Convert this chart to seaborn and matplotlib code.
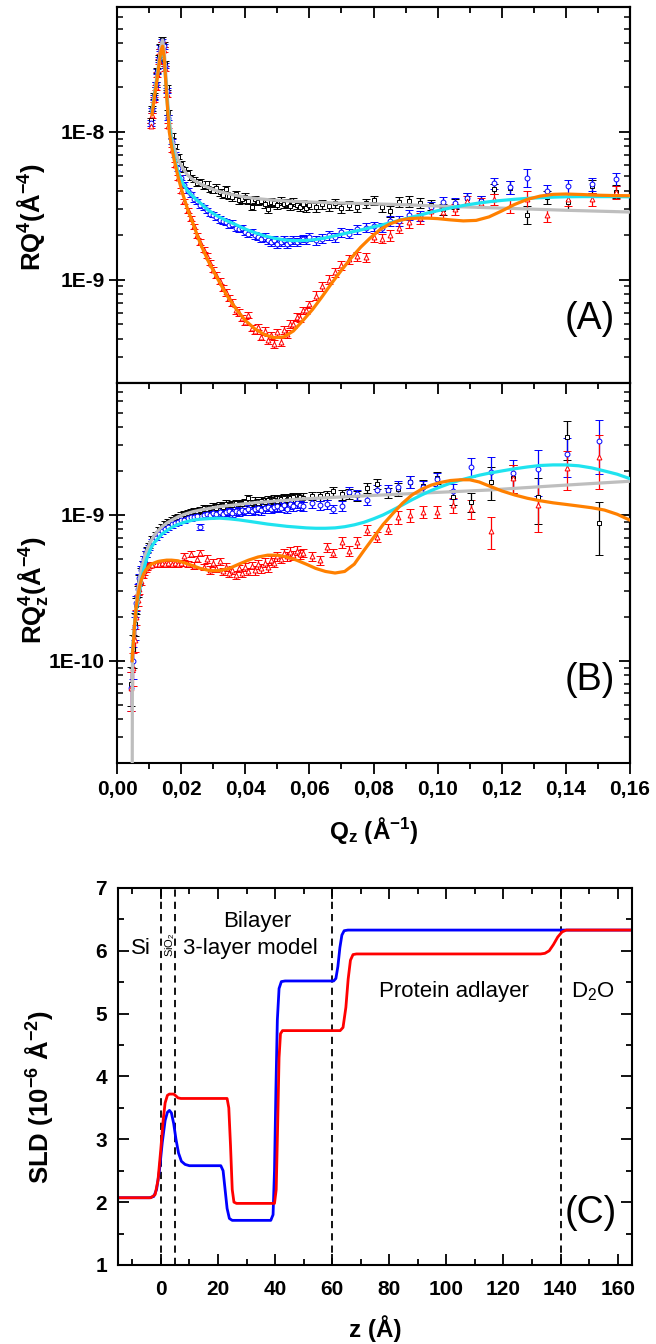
import numpy as np
import pandas as pd
import matplotlib
matplotlib.use("Agg")
import matplotlib.pyplot as plt
import seaborn as sns
from matplotlib.ticker import MultipleLocator, LogLocator, NullFormatter

# ---------------- panel A : RQ^4 (values in 1E-9) ----------------
qA = [0.0105, 0.011, 0.0115, 0.012, 0.0125, 0.013, 0.0135, 0.014, 0.0145, 0.015, 0.0155,
      0.016, 0.017, 0.018, 0.019, 0.020, 0.021, 0.022, 0.023, 0.024, 0.025,
      0.026, 0.027, 0.028, 0.029, 0.030, 0.031, 0.032, 0.033, 0.034, 0.035,
      0.036, 0.037, 0.038, 0.039, 0.040, 0.041, 0.042, 0.043, 0.044, 0.045,
      0.046, 0.047, 0.048, 0.049, 0.050, 0.051, 0.052, 0.053, 0.054, 0.055,
      0.056, 0.057, 0.058, 0.059, 0.060,
      0.062, 0.064, 0.066, 0.068, 0.070, 0.0725, 0.075, 0.0775, 0.080, 0.0825,
      0.085, 0.088, 0.091, 0.0945, 0.098, 0.1016, 0.1054, 0.1093, 0.1135, 0.1176,
      0.1225, 0.128, 0.134, 0.1407, 0.148, 0.1555]

black_A = [12, 14.5, 17.5, 21, 26, 32, 38, 42, 39, 29, 20,
           13.5, 9.5, 8.0, 6.8, 6.1, 5.6, 5.3, 4.9, 4.8, 4.5,
           4.6, 4.3, 4.5, 4.1, 4.0, 4.2, 3.9, 3.75, 4.1, 3.7,
           3.6, 3.8, 3.45, 3.5, 3.65, 3.4, 3.1, 3.5, 3.35, 3.4,
           3.25, 3.0, 3.35, 3.3, 3.2, 3.4, 3.25, 3.3, 3.15, 3.35,
           3.2, 3.1, 3.25, 3.05, 3.2,
           3.1, 3.25, 3.15, 3.3, 3.05, 3.2, 3.1, 3.3, 3.45, 3.1,
           2.9, 3.35, 3.4, 3.3, 3.2, 3.0, 3.25, 3.55, 3.4, 4.1,
           4.2, 2.75, 3.6, 3.35, 4.3, 3.95]

blue_A = [11.5, 14, 17, 21, 25.5, 31, 37, 41, 38, 28, 19,
          12.5, 8.6, 7.0, 5.7, 4.9, 4.4, 4.0, 3.8, 3.5, 3.4,
          3.2, 3.1, 2.95, 2.8, 2.75, 2.65, 2.55, 2.5, 2.45, 2.35,
          2.4, 2.25, 2.2, 2.25, 2.1, 2.05, 2.1, 2.0, 1.95, 1.9,
          1.95, 1.85, 1.8, 1.85, 1.75, 1.8, 1.85, 1.75, 1.8, 1.85,
          1.8, 1.85, 1.9, 1.85, 1.95,
          1.85, 1.9, 2.0, 1.95, 2.1, 2.05, 2.2, 2.25, 2.3, 2.25,
          2.5, 2.5, 2.75, 2.7, 3.1, 3.35, 3.3, 3.55, 3.4, 4.5,
          4.25, 4.9, 4.0, 4.3, 4.45, 4.8]

red_A = [11, 13, 16.5, 20, 24.5, 30, 35, 39, 36, 27, 18,
         11, 7.6, 6.0, 4.9, 4.0, 3.4, 2.95, 2.6, 2.3, 2.0,
         1.8, 1.6, 1.45, 1.3, 1.17, 1.08, 0.98, 0.88, 0.82, 0.75,
         0.70, 0.62, 0.6, 0.55, 0.52, 0.58, 0.47, 0.45, 0.48, 0.41,
         0.45, 0.39, 0.42, 0.37, 0.44, 0.38, 0.46, 0.43, 0.5, 0.5,
         0.56, 0.55, 0.62, 0.62, 0.68,
         0.78, 0.9, 1.0, 1.12, 1.25, 1.38, 1.45, 1.42, 1.95, 1.9,
         2.0, 2.25, 2.45, 2.6, 2.9, 2.85, 3.0, 3.4, 3.3, 3.5,
         3.15, 3.5, 2.75, 3.5, 3.5, 3.9]

rel_err_A = [0.04, 0.04, 0.04, 0.04, 0.04, 0.04, 0.04, 0.04, 0.04, 0.04, 0.04,
             0.04, 0.04, 0.04, 0.04, 0.04, 0.04, 0.04, 0.04, 0.04, 0.04,
             0.04, 0.04, 0.04, 0.04, 0.04, 0.05, 0.05, 0.05, 0.05, 0.05,
             0.05, 0.05, 0.05, 0.05, 0.05, 0.05, 0.05, 0.05, 0.05, 0.05,
             0.06, 0.06, 0.06, 0.06, 0.06, 0.06, 0.06, 0.06, 0.06, 0.06,
             0.06, 0.06, 0.06, 0.06, 0.06,
             0.07, 0.07, 0.07, 0.07, 0.07, 0.07, 0.07, 0.07, 0.07, 0.07,
             0.08, 0.08, 0.08, 0.08, 0.08, 0.08, 0.08, 0.08, 0.08, 0.08,
             0.1, 0.14, 0.1, 0.1, 0.1, 0.1]

fit_qA = [0.0109, 0.0118, 0.0126, 0.0133, 0.0138, 0.0142, 0.0147, 0.0152, 0.0157, 0.0163,
          0.017, 0.0178, 0.019, 0.0205, 0.022, 0.024, 0.026, 0.0285, 0.031, 0.034,
          0.037, 0.040, 0.043, 0.046, 0.049, 0.052, 0.055, 0.058, 0.061, 0.064,
          0.067, 0.070, 0.073, 0.076, 0.079, 0.082, 0.085, 0.088, 0.091, 0.094,
          0.097, 0.100, 0.104, 0.108, 0.112, 0.116, 0.120, 0.124, 0.128, 0.132,
          0.136, 0.140, 0.145, 0.150, 0.155, 0.160]

gray_A = [14, 19, 25, 33, 39, 42, 36, 25, 17, 12,
          9.3, 7.8, 6.5, 5.7, 5.1, 4.7, 4.45, 4.2, 4.0, 3.85,
          3.72, 3.62, 3.55, 3.5, 3.45, 3.42, 3.39, 3.37, 3.35, 3.33,
          3.31, 3.3, 3.29, 3.28, 3.27, 3.25, 3.24, 3.22, 3.21, 3.19,
          3.17, 3.15, 3.13, 3.11, 3.09, 3.07, 3.05, 3.03, 3.01, 2.99,
          2.97, 2.95, 2.93, 2.91, 2.89, 2.87]

cyan_A = [13.5, 18.5, 24, 31, 35, 36, 31, 22, 15.5, 11,
          8.4, 6.8, 5.4, 4.5, 4.0, 3.6, 3.3, 2.95, 2.72, 2.52,
          2.36, 2.2, 2.08, 1.98, 1.91, 1.86, 1.84, 1.84, 1.86, 1.9,
          1.96, 2.03, 2.1, 2.17, 2.25, 2.33, 2.42, 2.52, 2.62, 2.72,
          2.83, 2.93, 3.06, 3.18, 3.28, 3.37, 3.44, 3.5, 3.55, 3.59,
          3.62, 3.64, 3.65, 3.65, 3.65, 3.64]

orange_A = [13, 18, 23.5, 31, 36, 38, 32, 22, 15, 10,
            8.0, 6.5, 5.0, 3.8, 3.0, 2.3, 1.75, 1.33, 1.05, 0.8,
            0.64, 0.53, 0.465, 0.425, 0.405, 0.41, 0.45, 0.53, 0.63, 0.77,
            0.95, 1.16, 1.4, 1.66, 1.92, 2.18, 2.38, 2.52, 2.59, 2.61,
            2.61, 2.59, 2.54, 2.5, 2.52, 2.66, 2.92, 3.23, 3.5, 3.68,
            3.78, 3.8, 3.77, 3.73, 3.71, 3.7]

# ---------------- panel B : RQz^4 (values in 1E-9) ----------------
qB = [0.0045, 0.005, 0.0055, 0.006, 0.0065, 0.007, 0.0075, 0.008, 0.0085, 0.009,
      0.0095, 0.010, 0.011, 0.012,
      0.013, 0.014, 0.015, 0.016, 0.017, 0.018, 0.019, 0.020, 0.021, 0.022,
      0.023, 0.024, 0.025, 0.026, 0.027, 0.028, 0.029, 0.030, 0.031, 0.032,
      0.033, 0.034, 0.035, 0.036, 0.037, 0.038, 0.039, 0.040, 0.041, 0.042,
      0.043, 0.044, 0.045, 0.046, 0.047, 0.048, 0.049, 0.050, 0.051, 0.052,
      0.053, 0.054, 0.055, 0.056, 0.057,
      0.0581, 0.0607, 0.0633, 0.0654, 0.0675, 0.0701, 0.0725, 0.0749, 0.0779, 0.081,
      0.0844, 0.0877, 0.0914, 0.0955, 0.0999, 0.1048, 0.1104, 0.1166, 0.1236, 0.1314,
      0.1402, 0.1504]

black_B = [0.07, 0.12, 0.18, 0.24, 0.3, 0.36, 0.41, 0.46, 0.5, 0.54,
           0.58, 0.62, 0.69, 0.74,
           0.79, 0.83, 0.86, 0.89, 0.92, 0.95, 0.97, 0.99, 1.01, 1.03,
           1.04, 1.06, 1.07, 1.08, 1.12, 1.1, 1.11, 1.14, 1.12, 1.15,
           1.14, 1.19, 1.16, 1.17, 1.2, 1.18, 1.19, 1.22, 1.3, 1.2,
           1.23, 1.21, 1.24, 1.22, 1.26, 1.24, 1.27, 1.25, 1.28, 1.3,
           1.27, 1.3, 1.32, 1.29, 1.33,
           1.31, 1.35, 1.34, 1.36, 1.45, 1.38, 1.4, 1.36, 1.53, 1.63,
           1.42, 1.5, 1.69, 1.58, 1.8, 1.33, 1.23, 1.69, 1.8, 1.33,
           3.4, 0.88]

blue_B = [0.065, 0.1, 0.17, 0.25, 0.31, 0.37, 0.42, 0.46, 0.5, 0.54,
          0.57, 0.6, 0.66, 0.7,
          0.74, 0.78, 0.8, 0.83, 0.86, 0.88, 0.9, 0.92, 0.93, 0.95,
          0.96, 0.97, 0.99, 0.83, 1.0, 1.02, 1.0, 1.03, 1.01, 1.05,
          1.02, 1.04, 1.06, 1.03, 1.07, 1.05, 1.08, 1.06, 1.1, 1.07,
          1.09, 1.12, 1.08, 1.11, 1.14, 1.1, 1.13, 1.15, 1.12, 1.16,
          1.1, 1.18, 1.15, 1.2, 1.17,
          1.15, 1.2, 1.16, 1.18, 1.1, 1.15, 1.44, 1.38, 1.27, 1.49,
          1.49, 1.56, 1.69, 1.56, 1.76, 1.45, 2.14, 1.98, 1.95, 2.07,
          2.6, 3.2]

red_B = [0.065, 0.09, 0.14, 0.2, 0.26, 0.31, 0.35, 0.39, 0.41, 0.43,
         0.44, 0.45, 0.455, 0.46,
         0.46, 0.47, 0.46, 0.47, 0.46, 0.47, 0.46, 0.47, 0.52, 0.46,
         0.54, 0.45, 0.5, 0.55, 0.44, 0.5, 0.42, 0.47, 0.43, 0.48,
         0.41, 0.44, 0.4, 0.42, 0.39, 0.43, 0.4, 0.44, 0.41, 0.45,
         0.42, 0.46, 0.43, 0.47, 0.44, 0.49, 0.47, 0.52, 0.5, 0.55,
         0.52, 0.56, 0.53, 0.57, 0.54,
         0.55, 0.52, 0.49, 0.6, 0.55, 0.65, 0.57, 0.65, 0.79, 0.71,
         0.8, 0.97, 1.0, 1.05, 1.05, 1.17, 1.1, 0.78, 1.8, 1.17,
         2.1, 2.5]

rel_err_B = [0.3, 0.25, 0.18, 0.12, 0.09, 0.07, 0.06, 0.05, 0.05, 0.05,
             0.04, 0.04, 0.04, 0.04,
             0.05, 0.05, 0.05, 0.05, 0.05, 0.05, 0.05, 0.05, 0.05, 0.05,
             0.05, 0.05, 0.05, 0.05, 0.05, 0.06, 0.06, 0.06, 0.06, 0.06,
             0.06, 0.06, 0.06, 0.06, 0.06, 0.06, 0.06, 0.06, 0.06, 0.06,
             0.07, 0.07, 0.07, 0.07, 0.07, 0.07, 0.07, 0.07, 0.07, 0.07,
             0.07, 0.07, 0.07, 0.07, 0.07,
             0.07, 0.07, 0.07, 0.07, 0.07, 0.08, 0.08, 0.08, 0.08, 0.08,
             0.08, 0.1, 0.1, 0.1, 0.1, 0.12, 0.15, 0.25, 0.22, 0.35,
             0.3, 0.4]

fit_qB = [0.0047, 0.0048, 0.0052, 0.0056, 0.006, 0.0065, 0.007, 0.0076, 0.0083, 0.009,
          0.0098, 0.0107, 0.0117, 0.0128, 0.014, 0.0155, 0.017, 0.019, 0.021, 0.0235,
          0.026, 0.029, 0.032, 0.035, 0.038, 0.041, 0.044, 0.047, 0.050, 0.053,
          0.056, 0.059, 0.062, 0.065, 0.068, 0.071, 0.074, 0.077, 0.080, 0.083,
          0.086, 0.089, 0.092, 0.095, 0.098, 0.101, 0.104, 0.107, 0.110, 0.113,
          0.116, 0.120, 0.124, 0.128, 0.132, 0.136, 0.140, 0.144, 0.148, 0.152,
          0.156, 0.160]

gray_B = [0.005, 0.1, 0.15, 0.2, 0.25, 0.31, 0.37, 0.43, 0.49, 0.55,
          0.61, 0.67, 0.73, 0.78, 0.83, 0.88, 0.92, 0.97, 1.01, 1.05,
          1.08, 1.11, 1.14, 1.16, 1.18, 1.2, 1.22, 1.23, 1.25, 1.26,
          1.28, 1.29, 1.3, 1.31, 1.32, 1.33, 1.34, 1.35, 1.36, 1.37,
          1.38, 1.39, 1.40, 1.41, 1.42, 1.43, 1.44, 1.45, 1.46, 1.47,
          1.48, 1.5, 1.52, 1.54, 1.56, 1.58, 1.6, 1.62, 1.64, 1.66,
          1.68, 1.7]

cyan_B = [0.105, 0.115, 0.145, 0.185, 0.22, 0.26, 0.3, 0.36, 0.42, 0.48,
          0.54, 0.6, 0.65, 0.69, 0.74, 0.78, 0.82, 0.86, 0.89, 0.92,
          0.935, 0.945, 0.95, 0.94, 0.925, 0.905, 0.885, 0.865, 0.85, 0.835,
          0.825, 0.815, 0.81, 0.81, 0.815, 0.83, 0.855, 0.89, 0.94, 1.0,
          1.08, 1.17, 1.27, 1.37, 1.47, 1.56, 1.65, 1.73, 1.8, 1.87,
          1.93, 2.0, 2.07, 2.13, 2.18, 2.2, 2.2, 2.17, 2.1, 2.0,
          1.9, 1.77]

orange_B = [0.1, 0.11, 0.145, 0.19, 0.235, 0.28, 0.32, 0.36, 0.395, 0.42,
            0.44, 0.46, 0.47, 0.48, 0.485, 0.49, 0.49, 0.485, 0.47, 0.45,
            0.43, 0.415, 0.415, 0.43, 0.46, 0.49, 0.515, 0.53, 0.53, 0.515,
            0.49, 0.46, 0.43, 0.41, 0.40, 0.41, 0.46, 0.57, 0.7, 0.86,
            1.02, 1.2, 1.37, 1.5, 1.6, 1.67, 1.72, 1.74, 1.74, 1.68,
            1.58, 1.46, 1.37, 1.3, 1.25, 1.21, 1.18, 1.15, 1.12, 1.08,
            1.01, 0.92]

# ---------------- panel C : SLD profiles ----------------
z_blue = [-15, -4, -2.5, -1.5, -0.5, 0.5, 1.5, 2.3, 3.0, 3.7, 4.5, 5.3, 6.2, 7.2, 8.5, 10,
          21, 21.8, 22.5, 23.2, 24.0, 25, 38.5, 39.3, 39.8, 40.3, 40.8, 41.4, 42.2, 43.5,
          60.5, 61.3, 62.0, 62.7, 63.4, 64.2, 65.5, 165]
sld_blue = [2.07, 2.07, 2.09, 2.2, 2.5, 2.95, 3.3, 3.43, 3.46, 3.42, 3.25, 3.0, 2.78, 2.65, 2.6, 2.58,
            2.58, 2.5, 2.2, 1.9, 1.74, 1.71, 1.71, 1.8, 2.5, 3.8, 4.9, 5.4, 5.51, 5.52,
            5.52, 5.56, 5.75, 6.05, 6.25, 6.32, 6.33, 6.33]

z_red = [-15, -3.5, -2.0, -1.0, 0.0, 0.8, 1.5, 2.3, 3.0, 4.5, 5.3, 6.0, 7,
         23.2, 23.8, 24.4, 25.0, 25.6, 26.5, 39.8, 40.4, 40.9, 41.4, 41.9, 42.6, 44,
         62.8, 63.8, 64.8, 65.6, 66.4, 67.3, 68.5, 133, 134.5, 136, 137.5, 139, 140.5, 142, 165]
sld_red = [2.07, 2.07, 2.12, 2.35, 2.85, 3.3, 3.58, 3.7, 3.72, 3.72, 3.69, 3.66, 3.65,
           3.65, 3.5, 2.9, 2.2, 2.0, 1.98, 1.98, 2.2, 3.2, 4.3, 4.68, 4.73, 4.73,
           4.73, 4.78, 5.1, 5.55, 5.85, 5.94, 5.95, 5.95, 5.96, 6.0, 6.1, 6.22, 6.3, 6.33, 6.33]

z_dashed = [0, 5, 60, 140]

# tick labels
q_ticks = [0.0, 0.02, 0.04, 0.06, 0.08, 0.10, 0.12, 0.14, 0.16]
q_tick_labels = ['0,00', '0,02', '0,04', '0,06', '0,08', '0,10', '0,12', '0,14', '0,16']
A_yticks = [1e-9, 1e-8]
A_ytick_labels = ['1E-9', '1E-8']
B_yticks = [1e-10, 1e-9]
B_ytick_labels = ['1E-10', '1E-9']

SCALE = 1e-9

############# style #############
sns.set_theme(style="ticks", rc={'axes.edgecolor': 'black', 'axes.linewidth': 1.5,
                                  'xtick.color': 'black', 'ytick.color': 'black',
                                  'text.color': 'black', 'axes.labelcolor': 'black'})
plt.rcParams['font.family'] = ['Liberation Sans', 'DejaVu Sans']
plt.rcParams['font.weight'] = 'bold'
plt.rcParams['axes.labelweight'] = 'bold'
plt.rcParams['mathtext.fontset'] = 'custom'
plt.rcParams['mathtext.rm'] = 'Liberation Sans'
plt.rcParams['mathtext.it'] = 'Liberation Sans:italic'
plt.rcParams['mathtext.bf'] = 'Liberation Sans:bold'
plt.rcParams['mathtext.default'] = 'regular'

fig = plt.figure(figsize=(6.56, 13.44), dpi=100)
axA = fig.add_axes([0.1784, 0.7150, 0.782, 0.2798])
axB = fig.add_axes([0.1784, 0.4323, 0.782, 0.2827])
axC = fig.add_axes([0.1799, 0.0588, 0.7835, 0.2805])


def draw_data(ax, q, vals, err, color, marker):
    y = np.array(vals) * SCALE
    e = y * np.array(err)
    ax.errorbar(q, y, yerr=e, fmt=marker, ms=3.5, mfc='white', mec=color, mew=0.7,
                ecolor=color, elinewidth=0.9, capsize=2.8, capthick=0.9, zorder=2)


def draw_fit(ax, q, vals, color):
    df = pd.DataFrame({'q': q, 'r': np.array(vals) * SCALE})
    sns.lineplot(data=df, x='q', y='r', ax=ax, color=color, lw=2.3,
                 estimator=None, sort=False, legend=False, zorder=3)


def style_reflect(ax, ylim, yt, ytl, show_x):
    ax.set_yscale('log')
    ax.set_xlim(0, 0.16)
    ax.set_ylim(*ylim)
    ax.set_xticks(q_ticks)
    if show_x:
        ax.set_xticklabels(q_tick_labels)
    else:
        ax.set_xticklabels([])
    ax.xaxis.set_minor_locator(MultipleLocator(0.01))
    ax.set_yticks(yt)
    ax.set_yticklabels(ytl)
    ax.yaxis.set_minor_locator(LogLocator(base=10, subs=np.arange(2, 10)))
    ax.yaxis.set_minor_formatter(NullFormatter())
    ax.tick_params(axis='x', which='major', direction='out', length=8, width=1.3,
                   labelsize=15, pad=4, top=False)
    ax.tick_params(axis='x', which='minor', direction='out', length=4.5, width=1.3, top=False)
    ax.tick_params(axis='y', which='major', direction='inout', length=12, width=1.3,
                   labelsize=15, pad=3, right=False)
    ax.tick_params(axis='y', which='minor', direction='in', length=4.5, width=1.1, right=False)
    # ticks on top and right point inwards
    top = ax.secondary_xaxis('top')
    top.set_xticks(q_ticks)
    top.xaxis.set_minor_locator(MultipleLocator(0.01))
    top.tick_params(which='major', direction='in', length=8, width=1.3, labeltop=False)
    top.tick_params(which='minor', direction='in', length=4.5, width=1.3)
    top.spines['top'].set_linewidth(1.5)
    right = ax.secondary_yaxis('right')
    right.set_yticks(yt)
    right.yaxis.set_minor_locator(LogLocator(base=10, subs=np.arange(2, 10)))
    right.yaxis.set_minor_formatter(NullFormatter())
    right.tick_params(which='major', direction='in', length=8, width=1.3, labelright=False)
    right.tick_params(which='minor', direction='in', length=4.5, width=1.1)
    right.spines['right'].set_linewidth(1.5)
    for s in ax.spines.values():
        s.set_linewidth(1.5)
        s.set_visible(True)


############# panel A #############
draw_data(axA, qA, black_A, rel_err_A, 'black', 's')
draw_data(axA, qA, blue_A, rel_err_A, '#0000FF', 'o')
draw_data(axA, qA, red_A, rel_err_A, '#FF0000', '^')
draw_fit(axA, fit_qA, gray_A, '#BEBEBE')
draw_fit(axA, fit_qA, cyan_A, '#1FE3EF')
draw_fit(axA, fit_qA, orange_A, '#FF8000')
style_reflect(axA, (2e-10, 7e-8), A_yticks, A_ytick_labels, False)
axA.set_xlabel('')
axA.set_ylabel(r'RQ$^\mathbf{4}$(Å$^\mathbf{-4}$)', fontsize=18.5, fontweight='bold')
axA.yaxis.set_label_coords(-0.136, 0.44)
axA.text(0.922, 0.17, '(A)', transform=axA.transAxes, fontsize=27,
         fontweight='normal', ha='center', va='center')

############# panel B #############
draw_data(axB, qB, black_B, rel_err_B, 'black', 's')
draw_data(axB, qB, blue_B, rel_err_B, '#0000FF', 'o')
draw_data(axB, qB, red_B, rel_err_B, '#FF0000', '^')
draw_fit(axB, fit_qB, gray_B, '#BEBEBE')
draw_fit(axB, fit_qB, cyan_B, '#1FE3EF')
draw_fit(axB, fit_qB, orange_B, '#FF8000')
style_reflect(axB, (2e-11, 8e-9), B_yticks, B_ytick_labels, True)
axB.set_xlabel(r'Q$_\mathbf{z}$ (Å$^\mathbf{-1}$)', fontsize=17.5, fontweight='bold')
axB.xaxis.set_label_coords(0.5, -0.137)
axB.set_ylabel(r'RQ$_\mathbf{z}^\mathbf{4}$(Å$^\mathbf{-4}$)', fontsize=18.5, fontweight='bold')
axB.yaxis.set_label_coords(-0.13, 0.455)
axB.text(0.922, 0.219, '(B)', transform=axB.transAxes, fontsize=27,
         fontweight='normal', ha='center', va='center')

############# panel C #############
sld = pd.concat([pd.DataFrame({'z': z_blue, 'sld': sld_blue, 'set': 'blue'}),
                 pd.DataFrame({'z': z_red, 'sld': sld_red, 'set': 'red'})])
sns.lineplot(data=sld, x='z', y='sld', hue='set', palette={'blue': '#0000FF', 'red': '#FF0000'},
             ax=axC, lw=2.0, estimator=None, sort=False, legend=False)
for zd in z_dashed:
    axC.axvline(zd, color='black', lw=1.3, ls=(0, (4, 2.8)), zorder=1)
axC.set_xlim(-15, 165)
axC.set_ylim(1, 7)
axC.xaxis.set_major_locator(MultipleLocator(20))
axC.xaxis.set_minor_locator(MultipleLocator(10))
axC.yaxis.set_major_locator(MultipleLocator(1))
axC.yaxis.set_minor_locator(MultipleLocator(0.5))
axC.tick_params(which='both', direction='in', top=True, right=True, width=1.3)
axC.tick_params(which='major', length=8, labelsize=15)
axC.tick_params(which='minor', length=4.5)
axC.tick_params(axis='x', which='major', pad=10.5)
axC.tick_params(axis='y', which='major', pad=8)
for s in axC.spines.values():
    s.set_linewidth(1.5)
    s.set_visible(True)
axC.set_xlabel('z (Å)', fontsize=17.5, fontweight='bold')
axC.xaxis.set_label_coords(0.5, -0.133)
axC.set_ylabel(r'SLD (10$^\mathbf{-6}$ Å$^\mathbf{-2}$)', fontsize=18.5, fontweight='bold')
axC.yaxis.set_label_coords(-0.1226, 0.446)

axC.text(-7, 6.04, 'Si', fontsize=16, fontweight='normal', ha='center', va='center')
axC.text(3.2, 6.09, 'SiO$_2$', fontsize=8, fontweight='normal', rotation=90,
         ha='center', va='center')
axC.text(33.6, 6.46, 'Bilayer', fontsize=16, fontweight='normal', ha='center', va='center')
axC.text(7.6, 6.04, '3-layer model', fontsize=16, fontweight='normal', ha='left', va='center')
axC.text(102.5, 5.35, 'Protein adlayer', fontsize=16, fontweight='normal',
         ha='center', va='center')
axC.text(143.5, 5.35, 'D$_2$O', fontsize=16, fontweight='normal', ha='left', va='center')
axC.text(150.5, 1.82, '(C)', fontsize=27, fontweight='normal', ha='center', va='center')

fig.savefig('out.png', dpi=100)
